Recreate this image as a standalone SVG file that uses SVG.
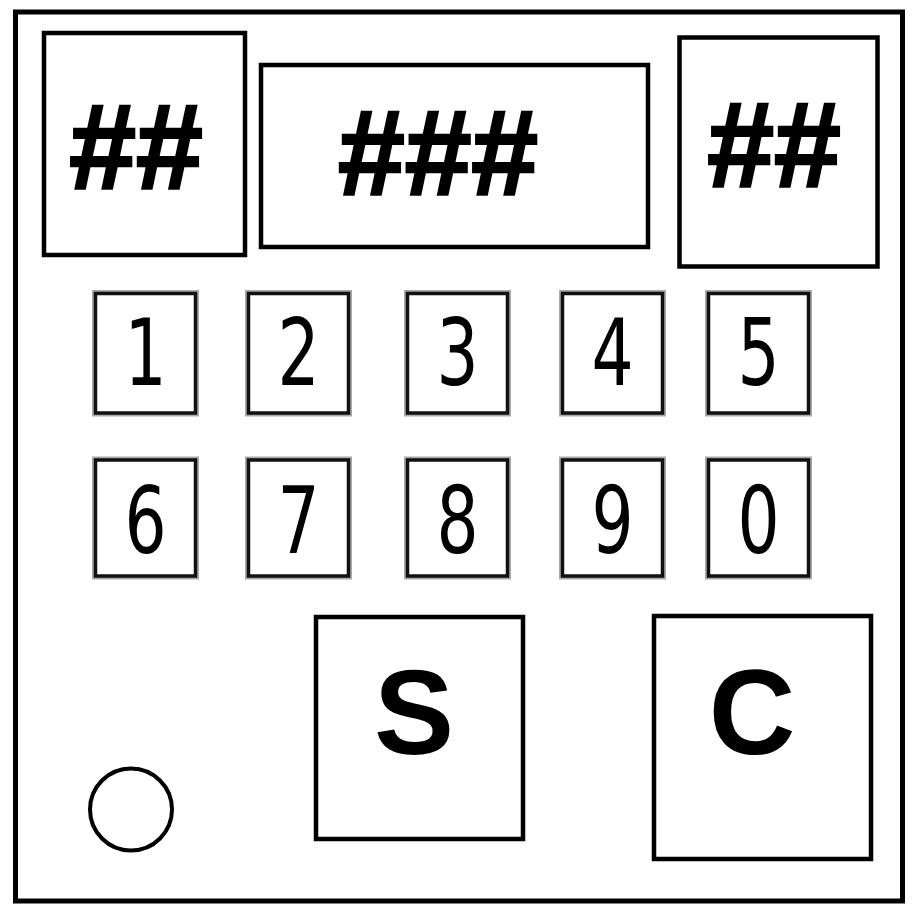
<svg xmlns="http://www.w3.org/2000/svg" width="917" height="911" viewBox="0 0 917 911">
<style>
.frame{fill:#fff;stroke:#000;stroke-width:5}
.box{fill:#fff;stroke:#000;stroke-width:4.5}
.kshadow{fill:none;stroke:#aaa;stroke-width:7}
.key{fill:#fff;stroke:#111;stroke-width:3.5}
.big{font-family:"Liberation Sans",Arial,sans-serif;font-weight:bold;font-size:120px;text-anchor:middle;fill:#000}
.hash{font-family:"Liberation Sans",Arial,sans-serif;font-weight:bold;font-size:120px;text-anchor:middle;fill:#000;stroke:#000;stroke-width:2.5;stroke-linejoin:miter}
.dig{font-family:"DejaVu Sans","Liberation Sans",sans-serif;font-size:92px;text-anchor:middle;fill:#000}
</style>
<rect width="917" height="911" fill="#fff"/>
<rect class="frame" x="15.5" y="12" width="887" height="889"/>
<g id="display-left"><rect class="box" x="44" y="33" width="201" height="222"/><text class="hash" x="136" y="188">##</text></g>
<g id="display-mid"><rect class="box" x="261" y="65" width="387" height="182"/><text class="hash" x="438" y="194">###</text></g>
<g id="display-right"><rect class="box" x="679.5" y="37.5" width="198" height="229"/><text class="hash" x="774" y="186">##</text></g>
<g id="key-1"><rect class="kshadow" x="95.5" y="293.5" width="100" height="119.5"/><rect class="key" x="95.5" y="293.5" width="100" height="119.5"/><text class="dig" transform="translate(145.5,385) scale(0.72,1)">1</text></g>
<g id="key-2"><rect class="kshadow" x="248.5" y="293.5" width="100" height="119.5"/><rect class="key" x="248.5" y="293.5" width="100" height="119.5"/><text class="dig" transform="translate(298.5,385) scale(0.72,1)">2</text></g>
<g id="key-3"><rect class="kshadow" x="407.5" y="293.5" width="100" height="119.5"/><rect class="key" x="407.5" y="293.5" width="100" height="119.5"/><text class="dig" transform="translate(457.5,385) scale(0.72,1)">3</text></g>
<g id="key-4"><rect class="kshadow" x="562.5" y="293.5" width="100" height="119.5"/><rect class="key" x="562.5" y="293.5" width="100" height="119.5"/><text class="dig" transform="translate(612.5,385) scale(0.72,1)">4</text></g>
<g id="key-5"><rect class="kshadow" x="708.5" y="293.5" width="100" height="119.5"/><rect class="key" x="708.5" y="293.5" width="100" height="119.5"/><text class="dig" transform="translate(758.5,385) scale(0.72,1)">5</text></g>
<g id="key-6"><rect class="kshadow" x="95.5" y="460" width="100" height="116"/><rect class="key" x="95.5" y="460" width="100" height="116"/><text class="dig" transform="translate(145.5,553) scale(0.72,1)">6</text></g>
<g id="key-7"><rect class="kshadow" x="248.5" y="460" width="100" height="116"/><rect class="key" x="248.5" y="460" width="100" height="116"/><text class="dig" transform="translate(298.5,553) scale(0.72,1)">7</text></g>
<g id="key-8"><rect class="kshadow" x="407.5" y="460" width="100" height="116"/><rect class="key" x="407.5" y="460" width="100" height="116"/><text class="dig" transform="translate(457.5,553) scale(0.72,1)">8</text></g>
<g id="key-9"><rect class="kshadow" x="562.5" y="460" width="100" height="116"/><rect class="key" x="562.5" y="460" width="100" height="116"/><text class="dig" transform="translate(612.5,553) scale(0.72,1)">9</text></g>
<g id="key-0"><rect class="kshadow" x="708.5" y="460" width="100" height="116"/><rect class="key" x="708.5" y="460" width="100" height="116"/><text class="dig" transform="translate(758.5,553) scale(0.72,1)">0</text></g>
<g id="key-S"><rect class="box" x="316" y="617" width="207" height="222"/><text class="big" x="414" y="754">S</text></g>
<g id="key-C"><rect class="box" x="654" y="616" width="217" height="243"/><text class="big" x="752" y="754">C</text></g>
<g id="indicator"><circle cx="131" cy="809.5" r="41" fill="#fff" stroke="#000" stroke-width="4"/></g>
<g id="connectors"></g>
</svg>
